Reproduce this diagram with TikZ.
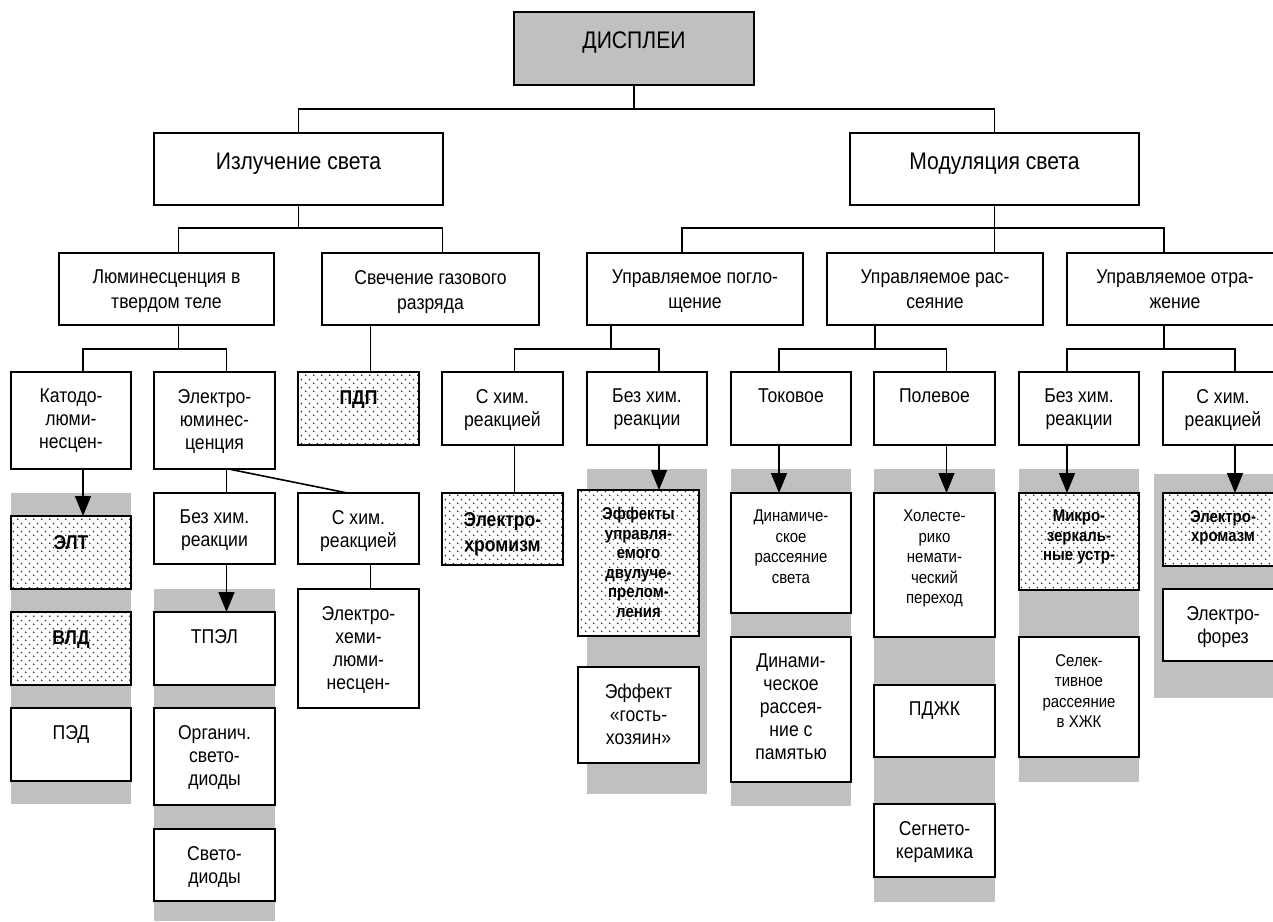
\documentclass[tikz,border=0pt]{standalone}
\usepackage{fontspec}
\setmainfont{Liberation Sans}[FakeStretch=0.88]
\usetikzlibrary{arrows.meta,patterns.meta}
\definecolor{panelgray}{RGB}{192,192,192}
\tikzdeclarepattern{
  name=sparsedots,
  type=uncolored,
  bounding box={(0pt,0pt) and (8pt,8pt)},
  tile size={(8pt,8pt)},
  code={
    \fill (2pt,2pt) circle [radius=0.95pt];
    \fill (6pt,6pt) circle [radius=0.95pt];
  }
}
\tikzset{
  box/.style={draw, line width=1.8pt, fill=white, inner sep=0pt, outer sep=0pt, anchor=north west},
  sz/.style 2 args={minimum width=#1pt, minimum height=#2pt},
  dotbox/.style={box, preaction={fill=white}, pattern=sparsedots, pattern color=black!85},
  lbl/.style={anchor=north, align=center, inner sep=0pt},
  txt/.style={lbl, yshift=-17pt, font=\fontsize{20}{23}\selectfont},
  btxt/.style={lbl, yshift=-19pt, font=\fontsize{20}{25}\selectfont\bfseries},
  big/.style={lbl, yshift=-20pt, font=\fontsize{24}{29}\selectfont},
  mid/.style={lbl, yshift=-17pt, font=\fontsize{20}{25}\selectfont},
  small/.style={lbl, yshift=-17pt, font=\fontsize{17}{20.5}\selectfont},
  bsmall/.style={lbl, yshift=-17pt, font=\fontsize{17}{19.5}\selectfont\bfseries},
  link/.style={line width=1.6pt},
  arr/.style={link, -{Triangle[width=16pt,length=20pt]}}
}
\begin{document}
\begin{tikzpicture}[x=1pt,y=-1pt]
\path[use as bounding box, clip] (0,0) rectangle (1273,921);

% Gray columns
\fill[panelgray] (11,493) rectangle (131,804);
\fill[panelgray] (154,589) rectangle (275,921);
\fill[panelgray] (587,469) rectangle (707,794);
\fill[panelgray] (731,469) rectangle (851,806);
\fill[panelgray] (874,469) rectangle (995,902);
\fill[panelgray] (1019,469) rectangle (1139,782);
\fill[panelgray] (1154,474) rectangle (1283,698);

% Top levels
\node[box, sz={240}{73}, fill=panelgray] (disp) at (514,12) {};
\node[big] (disp-t) at (disp.north) {ДИСПЛЕИ};
\node[box, sz={289}{72}] (izl) at (154,133) {};
\node[big] (izl-t) at (izl.north) {Излучение света};
\node[box, sz={289}{72}] (mod) at (850,133) {};
\node[big] (mod-t) at (mod.north) {Модуляция света};

\node[box, sz={215}{72}] (lum) at (59,253) {};
\node[mid] (lum-t) at (lum.north) {Люминесценция в\\твердом теле};
\node[box, sz={217}{72}] (svech) at (322,253) {};
\node[mid] (svech-t) at (svech.north) {Свечение газового\\разряда};
\node[box, sz={216}{72}] (pogl) at (587,253) {};
\node[mid] (pogl-t) at (pogl.north) {Управляемое погло-\\щение};
\node[box, sz={216}{72}] (rass) at (827,253) {};
\node[mid] (rass-t) at (rass.north) {Управляемое рас-\\сеяние};
\node[box, sz={216}{72}] (otr) at (1067,253) {};
\node[mid] (otr-t) at (otr.north) {Управляемое отра-\\жение};

% Third level
\node[box, sz={120}{97}] (kat) at (11,372) {};
\node[txt] (kat-t) at (kat.north) {Катодо-\\люми-\\несцен-};
\node[box, sz={121}{97}] (elum) at (154,372) {};
\node[txt] (elum-t) at (elum.north) {Электро-\\юминес-\\ценция};
\node[dotbox, sz={121}{73}] (pdp) at (298,372) {};
\node[btxt] (pdp-t) at (pdp.north) {ПДП};
\node[box, sz={121}{73}] (schim1) at (442,372) {};
\node[txt] (schim1-t) at (schim1.north) {С хим.\\реакцией};
\node[box, sz={120}{73}] (bezh1) at (587,372) {};
\node[txt] (bezh1-t) at (bezh1.north) {Без хим.\\реакции};
\node[box, sz={120}{73}] (tok) at (731,372) {};
\node[txt] (tok-t) at (tok.north) {Токовое};
\node[box, sz={121}{73}] (pol) at (874,372) {};
\node[txt] (pol-t) at (pol.north) {Полевое};
\node[box, sz={120}{73}] (bezh2) at (1019,372) {};
\node[txt] (bezh2-t) at (bezh2.north) {Без хим.\\реакции};
\node[box, sz={120}{73}] (schim2) at (1163,372) {};
\node[txt] (schim2-t) at (schim2.north) {С хим.\\реакцией};

% Solid state
\node[dotbox, sz={120}{73}] (elt) at (11,516) {};
\node[btxt] (elt-t) at (elt.north) {ЭЛТ};
\node[dotbox, sz={120}{73}] (vld) at (11,612) {};
\node[btxt] (vld-t) at (vld.north) {ВЛД};
\node[box, sz={120}{73}] (ped) at (11,708) {};
\node[txt] (ped-t) at (ped.north) {ПЭД};
\node[box, sz={121}{71}] (bezh0) at (154,493) {};
\node[txt] (bezh0-t) at (bezh0.north) {Без хим.\\реакции};
\node[box, sz={121}{71}] (schim0) at (298,493) {};
\node[txt] (schim0-t) at (schim0.north) {С хим.\\реакцией};
\node[box, sz={121}{119}] (ehl) at (298,589) {};
\node[txt] (ehl-t) at (ehl.north) {Электро-\\хеми-\\люми-\\несцен-};
\node[box, sz={121}{73}] (tpel) at (154,612) {};
\node[txt] (tpel-t) at (tpel.north) {ТПЭЛ};
\node[box, sz={121}{97}] (org) at (154,708) {};
\node[txt] (org-t) at (org.north) {Органич.\\свето-\\диоды};
\node[box, sz={121}{72}] (svd) at (154,829) {};
\node[txt] (svd-t) at (svd.north) {Свето-\\диоды};

% Modulation
\node[dotbox, sz={121}{72}] (ehrom) at (442,493) {};
\node[btxt] (ehrom-t) at (ehrom.north) {Электро-\\хромизм};
\node[dotbox, sz={121}{146}] (eff) at (578,490) {};
\node[bsmall] (eff-t) at (eff.north) {Эффекты\\управля-\\емого\\двулуче-\\прелом-\\ления};
\node[box, sz={121}{96}] (gh) at (578,667) {};
\node[txt] (gh-t) at (gh.north) {Эффект\\«гость-\\хозяин»};
\node[box, sz={120}{120}] (drs) at (731,493) {};
\node[small] (drs-t) at (drs.north) {Динамиче-\\ское\\рассеяние\\света};
\node[box, sz={120}{145}] (drp) at (731,637) {};
\node[txt] (drp-t) at (drp.north) {Динами-\\ческое\\рассея-\\ние с\\памятью};
\node[box, sz={121}{144}] (hol) at (874,493) {};
\node[small] (hol-t) at (hol.north) {Холесте-\\рико\\немати-\\ческий\\переход};
\node[box, sz={121}{72}] (pdzk) at (874,685) {};
\node[txt] (pdzk-t) at (pdzk.north) {ПДЖК};
\node[box, sz={121}{73}] (seg) at (874,804) {};
\node[txt] (seg-t) at (seg.north) {Сегнето-\\керамика};
\node[dotbox, sz={120}{97}] (mikro) at (1019,493) {};
\node[bsmall] (mikro-t) at (mikro.north) {Микро-\\зеркаль-\\ные устр-};
\node[box, sz={120}{120}] (sel) at (1019,637) {};
\node[small] (sel-t) at (sel.north) {Селек-\\тивное\\рассеяние\\в ХЖК};
\node[dotbox, sz={120}{73}] (ehrom2) at (1163,493) {};
\node[bsmall] (ehrom2-t) at (ehrom2.north) {Электро-\\хромазм};
\node[box, sz={120}{72}] (ef) at (1163,589) {};
\node[txt] (ef-t) at (ef.north) {Электро-\\форез};

% Connectors
\draw[link] (disp.south) -- ++(0,24) -| (izl.north);
\draw[link] (disp.south) -- ++(0,24) -| (mod.north);
\draw[link] (izl.south) -- ++(0,23) -| ([xshift=12pt]lum.north);
\draw[link] (izl.south) -- ++(0,23) -| ([xshift=12pt]svech.north);
\draw[link] (mod.south) -- ++(0,23) -| ([xshift=-13pt]pogl.north);
\draw[link] (mod.south) -- (mod.south |- rass.north);
\draw[link] (mod.south) -- ++(0,23) -| ([xshift=-11pt]otr.north);
\draw[link] ([xshift=12pt]lum.south) -- ++(0,24) -| ([xshift=12pt]kat.north);
\draw[link] ([xshift=12pt]lum.south) -- ++(0,24) -| ([xshift=12pt]elum.north);
\draw[link] ([xshift=12pt]pdp.north) -- ([xshift=12pt]pdp.north |- svech.south);
\draw[link] ([xshift=-84pt]pogl.south) -- ++(0,24) -| ([xshift=12pt]schim1.north);
\draw[link] ([xshift=-84pt]pogl.south) -- ++(0,24) -| ([xshift=12pt]bezh1.north);
\draw[link] ([xshift=-60pt]rass.south) -- ++(0,24) -| ([xshift=-12pt]tok.north);
\draw[link] ([xshift=-60pt]rass.south) -- ++(0,24) -| ([xshift=12pt]pol.north);
\draw[link] ([xshift=-11pt]otr.south) -- ++(0,24) -| ([xshift=-12pt]bezh2.north);
\draw[link] ([xshift=-11pt]otr.south) -- ++(0,24) -| ([xshift=12pt]schim2.north);

\draw[link] ([xshift=12pt]elum.south) -- ([xshift=12pt]bezh0.north);
\draw[link] ([xshift=14pt]elum.south) -- ([xshift=-11pt]schim0.north);
\draw[link] ([xshift=12pt]schim0.south) -- ([xshift=12pt]ehl.north);
\draw[link] ([xshift=12pt]schim1.south) -- ([xshift=12pt]ehrom.north);

% Arrows
\draw[arr] ([xshift=12pt]kat.south) -- ([xshift=12pt]elt.north);
\draw[arr] ([xshift=12pt]bezh0.south) -- ([xshift=12pt]tpel.north);
\draw[arr] ([xshift=12pt]bezh1.south) -- ([xshift=12pt]bezh1.south |- eff.north);
\draw[arr] ([xshift=-12pt]tok.south) -- ([xshift=-12pt]drs.north);
\draw[arr] ([xshift=12pt]pol.south) -- ([xshift=12pt]hol.north);
\draw[arr] ([xshift=-12pt]bezh2.south) -- ([xshift=-12pt]mikro.north);
\draw[arr] ([xshift=12pt]schim2.south) -- ([xshift=12pt]ehrom2.north);
\end{tikzpicture}
\end{document}
